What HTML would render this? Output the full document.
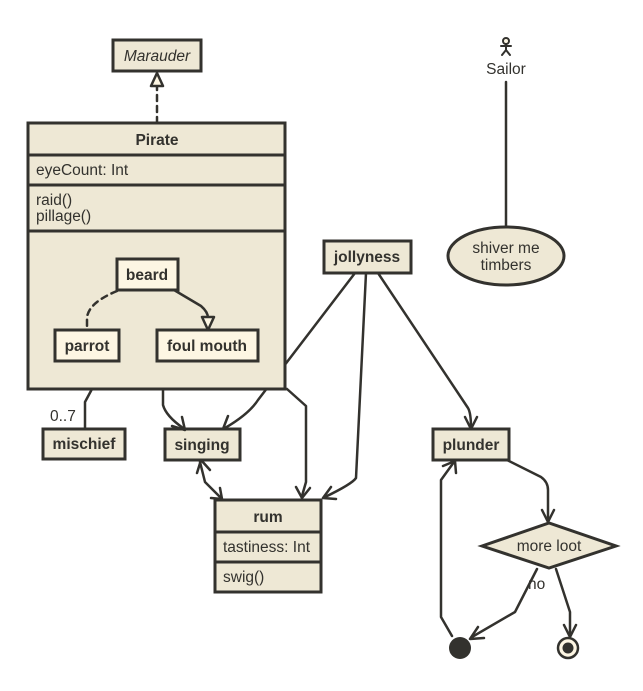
<!DOCTYPE html>
<html><head><meta charset="utf-8"><style>
html,body{margin:0;padding:0;background:#fff;}
svg{display:block;}
text{font-family:"Liberation Sans",Helvetica,Arial,sans-serif;fill:#33322e;font-size:15.5px;}
.b{font-weight:bold;}
</style></head><body>
<svg width="643" height="691" viewBox="0 0 643 691" xmlns="http://www.w3.org/2000/svg">
<g fill="none" stroke="#33322e" stroke-width="2.5" stroke-linejoin="round" stroke-linecap="round">
  <path d="M355,273 L258,400 Q249,414 225,428"/>
  <path d="M228,416 L223,429 L236,430"/>
</g>
<g stroke="#33322e" stroke-width="3">
  <rect x="28" y="123" width="257" height="266" fill="#eee8d5"/>
  <line x1="28" y1="155" x2="285" y2="155"/>
  <line x1="28" y1="185" x2="285" y2="185"/>
  <line x1="28" y1="231" x2="285" y2="231"/>
  <rect x="113" y="40" width="88" height="31" fill="#eee8d5"/>
  <rect x="117" y="259" width="61" height="31" fill="#fdf6e3"/>
  <rect x="55" y="330" width="64" height="31" fill="#fdf6e3"/>
  <rect x="157" y="330" width="101" height="31" fill="#fdf6e3"/>
  <rect x="324" y="241" width="87" height="32" fill="#eee8d5"/>
  <ellipse cx="506" cy="256" rx="58" ry="29" fill="#eee8d5"/>
  <rect x="43" y="429" width="82" height="30" fill="#eee8d5"/>
  <rect x="165" y="429" width="75" height="31" fill="#eee8d5"/>
  <rect x="215" y="500" width="106" height="92" fill="#eee8d5"/>
  <line x1="215" y1="532" x2="321" y2="532"/>
  <line x1="215" y1="562" x2="321" y2="562"/>
  <rect x="433" y="429" width="76" height="31" fill="#eee8d5"/>
  <polygon points="482,546 549,523 616,546 549,568" fill="#eee8d5"/>
</g>
<g fill="none" stroke="#33322e" stroke-width="2.5" stroke-linejoin="round" stroke-linecap="round">
  <path d="M157,123 L157,87" stroke-dasharray="6,5"/>
  <polygon points="157,73 151,86 163,86" fill="#fdf6e3"/>
  <path d="M117,291 Q88,303 87,318 L87,330" stroke-dasharray="6,5"/>
  <path d="M174,290 L201,306 Q208,312 208,318"/>
  <polygon points="208,330 202,317 214,317" fill="#fdf6e3"/>
  <path d="M92,389 L85,402 L85,429"/>
  <path d="M163,389 L163,405 Q166,416 183,428"/>
  <path d="M172,426 L185,430 L182,417"/>
  <path d="M287,389 L306,406 L306,482 L302,496"/>
  <path d="M296,487 L302,498 L310,488"/>
  <path d="M366,273 L356,478 Q352,484 325,497"/>
  <path d="M331,487 L323,498 L336,499"/>
  <path d="M378,273 L468,408 Q471,413 471,428"/>
  <path d="M465,417 L471,429 L477,417"/>
  <path d="M200,462 L205,482 L220,497"/>
  <path d="M197,473 L201,460 L210,470"/>
  <path d="M211,498 L222,499 L220,488"/>
  <path d="M506,82 L506,227"/>
  <path d="M507,460 L541,477 Q548,482 548,490 L548,522"/>
  <path d="M542,510 L548,522 L554,510"/>
  <path d="M537,569 L515,612 L472,637"/>
  <path d="M478,627 L470,639 L484,638"/>
  <path d="M556,569 L570,612 L570,636"/>
  <path d="M564,625 L570,637 L576,625"/>
  <path d="M452,636 L441,617 L441,480 L454,462"/>
  <path d="M443,466 L455,461 L456,473"/>
  <circle cx="506" cy="41" r="3" fill="#fdf6e3" stroke-width="2"/>
  <path d="M506,44 L506,50 M501,46 L511,46 M502,55 L506,50 L510,55" stroke-width="2"/>
</g>
<circle cx="460" cy="648" r="11" fill="#33322e"/>
<circle cx="568" cy="648" r="10" fill="#fdf6e3" stroke="#33322e" stroke-width="2.5"/>
<circle cx="568" cy="648" r="5.5" fill="#33322e"/>
<text x="157" y="61" text-anchor="middle" font-style="italic">Marauder</text>
<text x="157" y="145" text-anchor="middle" class="b">Pirate</text>
<text x="36" y="175">eyeCount: Int</text>
<text x="36" y="205">raid()</text>
<text x="36" y="221">pillage()</text>
<text x="147" y="280" text-anchor="middle" class="b">beard</text>
<text x="87" y="351" text-anchor="middle" class="b">parrot</text>
<text x="207" y="351" text-anchor="middle" class="b">foul mouth</text>
<text x="367" y="262" text-anchor="middle" class="b">jollyness</text>
<text x="506" y="74" text-anchor="middle">Sailor</text>
<text x="506" y="253" text-anchor="middle">shiver me</text>
<text x="506" y="270" text-anchor="middle">timbers</text>
<text x="50" y="421">0..7</text>
<text x="84" y="449" text-anchor="middle" class="b">mischief</text>
<text x="202" y="450" text-anchor="middle" class="b">singing</text>
<text x="268" y="522" text-anchor="middle" class="b">rum</text>
<text x="223" y="552">tastiness: Int</text>
<text x="223" y="582">swig()</text>
<text x="471" y="450" text-anchor="middle" class="b">plunder</text>
<text x="549" y="551" text-anchor="middle">more loot</text>
<text x="528" y="589">no</text>
</svg>
</body></html>
